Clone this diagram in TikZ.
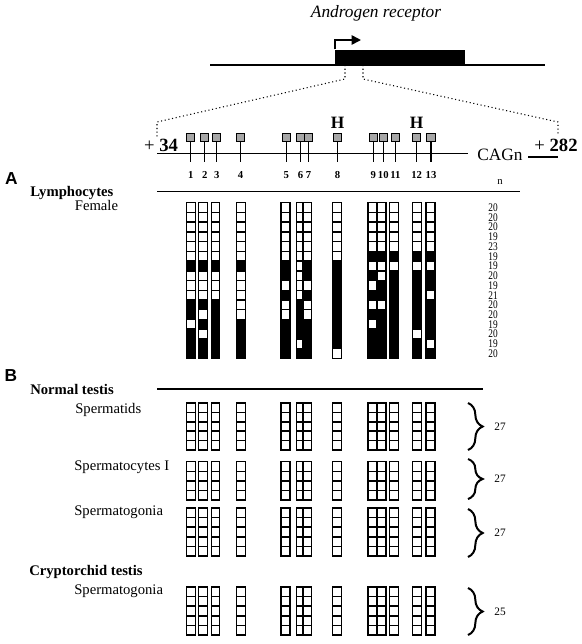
\documentclass[tikz,border=0pt]{standalone}
\usepackage{fontspec}
\usepackage{graphicx}
\setmainfont{Liberation Serif}
\newfontfamily\panelfont{Liberation Sans}
\usetikzlibrary{arrows.meta,decorations.pathreplacing}

\newcommand\testiscols{191/8.5, 203/8.5, 215.5/8.5, 241/8.5, 285.5/9, 299.6/6.5, 307.4/8, 337/9, 372.3/8.7, 381.3/9, 394/9, 417/8.5, 430.5/9}

\tikzset{
	cell/.style={draw,fill=white,line width=1.1pt},
	methyl/.style={draw,fill=black,line width=1.1pt},
	cpg/.style={draw,fill=black!35,line width=0.7pt,minimum size=6.2pt,inner sep=0pt},
	cpgnum/.style={font=\fontsize{8}{8}\selectfont\bfseries,inner sep=0pt},
	grouplab/.style={font=\fontsize{11}{13}\selectfont\bfseries,inner sep=0pt,anchor=base west},
	rowlab/.style={font=\fontsize{11}{13}\selectfont,inner sep=0pt,anchor=base west},
	nval/.style={font=\fontsize{7}{7}\selectfont,inner sep=0pt},
	cntlab/.style={font=\fontsize{8.5}{9}\selectfont,inner sep=0pt},
	panel/.style={font=\panelfont\bfseries\fontsize{13}{13}\selectfont,inner sep=0pt},
	curly/.style={decorate,decoration={brace,amplitude=11pt},line width=1.5pt},
	zoomline/.style={dotted,line width=0.8pt},
}

\begin{document}
\begin{tikzpicture}[x=0.75pt,y=-0.75pt]
	\useasboundingbox (0,0) rectangle (582,644);

	\node[font=\fontsize{13}{15}\selectfont\itshape] (title) at (376,13) {Androgen receptor};
	\coordinate (geneL) at (210,65);
	\coordinate (geneR) at (545,65);
	\draw[line width=1.4pt] (geneL) -- (geneR);
	\node[fill=black,minimum width=97.5pt,minimum height=11.25pt,inner sep=0pt,anchor=south west] (exon) at (335,65) {};
	\coordinate (tss) at (335,40);
	\coordinate (tssend) at (361,40);
	\draw[line width=1.2pt,-{Triangle[length=7pt,width=7pt]}] (exon.north west) -- (tss) -- (tssend);

	\coordinate (zoomL1) at (345,65);
	\coordinate (zoomL2) at (345,79);
	\coordinate (zoomL3) at (157,122);
	\coordinate (zoomL4) at (157,137);
	\draw[zoomline] (zoomL1) -- (zoomL2) -- (zoomL3) -- (zoomL4);
	\coordinate (zoomR1) at (363,65);
	\coordinate (zoomR2) at (363,79);
	\coordinate (zoomR3) at (558,122);
	\coordinate (zoomR4) at (558,135);
	\draw[zoomline] (zoomR1) -- (zoomR2) -- (zoomR3) -- (zoomR4);

	\coordinate (seqL) at (157,153.3);
	\coordinate (seqR) at (468,153.3);
	\draw[line width=1.1pt] (seqL) -- (seqR);
	\node[font=\fontsize{13}{13}\selectfont,inner sep=0pt] (cag) at (500,155) {CAGn};
	\coordinate (tailL) at (528,157);
	\coordinate (tailR) at (558,157);
	\draw[line width=1.1pt] (tailL) -- (tailR);
	\node[font=\fontsize{14}{14}\selectfont,inner sep=0pt] (start) at (161,145) {+ \textbf{34}};
	\node[font=\fontsize{14}{14}\selectfont,inner sep=0pt] (stop) at (556,145) {+ \textbf{282}};
	\node[font=\fontsize{13}{13}\selectfont\bfseries,inner sep=0pt] (hhal8) at (337.5,123) {H};
	\node[font=\fontsize{13}{13}\selectfont\bfseries,inner sep=0pt] (hhal12) at (416.7,123) {H};

	\foreach \i/\x in {1/190.8,2/204.8,3/216.7,4/240.5,5/286.2,6/300.5,7/308.5,8/337.5,9/373.3,10/383.3,11/395.3,12/416.7,13/431}{
		\node[cpg] (cpg\i) at (\x,137.5) {};
		\coordinate (stem\i) at (\x,161.7);
		\draw[line width=0.9pt] (cpg\i) -- (stem\i);
		\node[cpgnum] (num\i) at (\x,175) {\i};
	}

	\node[panel] (panelA) at (11.5,179) {A};
	\coordinate (sepAL) at (157,191.7);
	\coordinate (sepAR) at (520,191.7);
	\draw[line width=1.1pt] (sepAL) -- (sepAR);
	\node[font=\fontsize{8}{8}\selectfont,inner sep=0pt] (nhead) at (500,182) {n};
	\node[grouplab] (lymph) at (30,196.7) {Lymphocytes};
	\node[rowlab,anchor=base east] (female) at (118.3,210.7) {Female};

	\foreach \cx/\cw/\blk in {191/8.5/{7,11,12,14,15,16}, 203/8.5/{7,11,13,15,16}, 215.5/8.5/{7,11,12,13,14,15,16},
		241/8.5/{7,13,14,15,16}, 285.5/9/{7,8,10,13,14,15,16}, 299.6/6.5/{11,12,13,14,16}, 307.4/8/{7,8,10,13,14,15,16},
		337/9/{7,8,9,10,11,12,13,14,15}, 372.3/8.7/{6,8,10,12,14,15,16}, 381.3/9/{6,9,10,12,13,14,15,16},
		394/9/{6,8,9,10,11,12,13,14,15,16}, 417/8.5/{6,8,9,10,11,12,13,15,16}, 430.5/9/{6,8,9,11,12,13,14,16}}{
		\foreach \r in {1,...,16}
			\draw[cell] ({\cx-\cw/2},{193+9.73*\r}) rectangle ++(\cw,9.73);
		\foreach \r in \blk
			\draw[methyl] ({\cx-\cw/2},{193+9.73*\r}) rectangle ++(\cw,9.73);
	}
	\foreach \v [count=\r] in {20,20,20,19,23,19,19,20,19,21,20,20,19,20,19,20}
		\node[nval] (nval\r) at (493,{193+9.73*(\r+0.5)}) {\scalebox{1}[1.25]{\v}};

	\node[panel] (panelB) at (11,376) {B};
	\coordinate (sepBL) at (157,389);
	\coordinate (sepBR) at (483,389);
	\draw[line width=1.1pt] (sepBL) -- (sepBR);
	\node[grouplab] (normal) at (30,394) {Normal testis};
	\node[rowlab] (spd) at (75,413.3) {Spermatids};
	\node[rowlab] (spc) at (74,470.7) {Spermatocytes I};
	\node[rowlab] (spg) at (74,515) {Spermatogonia};
	\node[grouplab] (crypt) at (29,575) {Cryptorchid testis};
	\node[rowlab] (spgc) at (74,594) {Spermatogonia};

	\foreach \ytop/\rh/\nrows in {403/9.4/5, 461.7/9.6/4, 508/9.6/5, 587/9.6/5}
		\foreach \cx/\cw in \testiscols
			\foreach \r in {1,...,\nrows}
				\draw[cell] ({\cx-\cw/2},{\ytop+\rh*(\r-1)}) rectangle ++(\cw,\rh);

	\foreach \i/\a/\b/\t in {1/403/450/27, 2/459/499/27, 3/509/557/27, 4/588/635/25}{
		\coordinate (bt\i) at (468,\a);
		\coordinate (bb\i) at (468,\b);
		\draw[curly] (bt\i) -- (bb\i);
		\node[cntlab] (cnt\i) at (500,{(\a+\b)/2}) {\t};
	}
\end{tikzpicture}
\end{document}
